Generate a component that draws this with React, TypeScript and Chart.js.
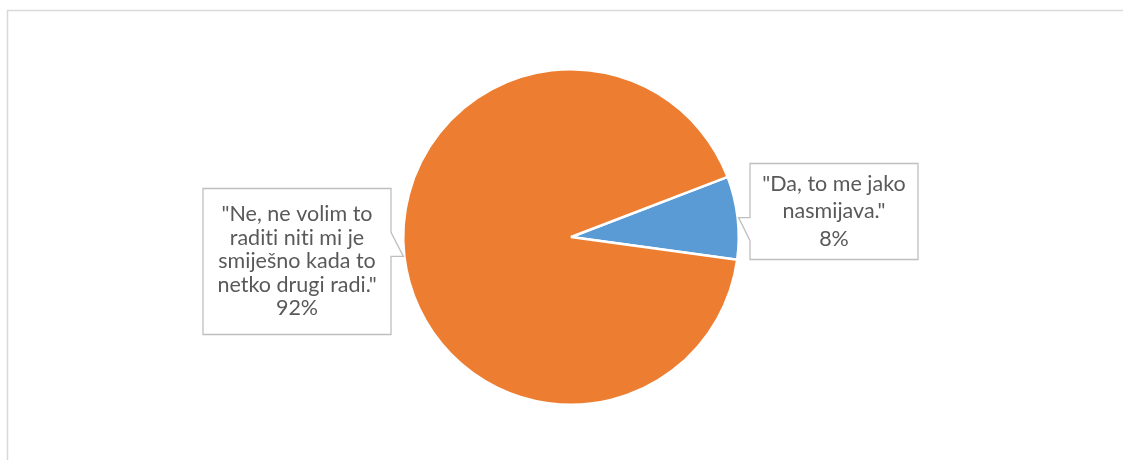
import React, { useEffect, useRef } from "react";
import { Chart, registerables } from "chart.js";

Chart.register(...registerables);

const categories = [
  '"Da, to me jako nasmijava."',
  '"Ne, ne volim to raditi niti mi je smiješno kada to netko drugi radi."',
];
const values = [8, 92];
const labelLines = [
  ['"Da, to me jako', 'nasmijava."', '8%'],
  ['"Ne, ne volim to', 'raditi niti mi je', 'smiješno kada to', 'netko drugi radi."', '92%'],
];
const colors = ["#5B9BD5", "#ED7D31"];

// callout box layout
const boxes: { x0: number; y0: number; x1: number; y1: number; side: "left" | "right"; lh: number; base: number }[] = [
  { x0: 750, y0: 163.5, x1: 918, y1: 259.5, side: "left", lh: 27.5, base: 23 },
  { x0: 203, y0: 188.5, x1: 391, y1: 334.5, side: "right", lh: 23.5, base: 24 },
];

const calloutPlugin = {
  id: "callouts",
  beforeDraw(chart: any) {
    const ctx = chart.ctx;
    ctx.save();
    ctx.fillStyle = "#ffffff";
    ctx.fillRect(0, 0, chart.width, chart.height);
    ctx.strokeStyle = "#d9d9d9";
    ctx.lineWidth = 1.5;
    ctx.beginPath();
    ctx.moveTo(7.5, chart.height);
    ctx.lineTo(7.5, 10.5);
    ctx.lineTo(chart.width, 10.5);
    ctx.stroke();
    ctx.restore();
  },
  afterDraw(chart: any) {
    const ctx = chart.ctx;
    const meta = chart.getDatasetMeta(0);
    meta.data.forEach((arc: any, i: number) => {
      const b = boxes[i];
      const mid = (arc.startAngle + arc.endAngle) / 2;
      const r = arc.outerRadius + 1;
      const tx = arc.x + Math.cos(mid) * r;
      const ty = arc.y + Math.sin(mid) * r;
      ctx.save();
      ctx.beginPath();
      if (b.side === "left") {
        ctx.moveTo(b.x0, b.y0);
        ctx.lineTo(b.x1, b.y0);
        ctx.lineTo(b.x1, b.y1);
        ctx.lineTo(b.x0, b.y1);
        ctx.lineTo(b.x0, ty + b.base);
        ctx.lineTo(tx, ty);
        ctx.lineTo(b.x0, ty);
        ctx.closePath();
      } else {
        ctx.moveTo(b.x0, b.y0);
        ctx.lineTo(b.x1, b.y0);
        ctx.lineTo(b.x1, ty - b.base);
        ctx.lineTo(tx, ty);
        ctx.lineTo(b.x1, ty);
        ctx.lineTo(b.x1, b.y1);
        ctx.lineTo(b.x0, b.y1);
        ctx.closePath();
      }
      ctx.fillStyle = "#ffffff";
      ctx.fill();
      ctx.strokeStyle = "#bfbfbf";
      ctx.lineWidth = 1.3;
      ctx.stroke();
      const lines = labelLines[i];
      ctx.fillStyle = "#595959";
      ctx.font = "21.5px Lato, 'Noto Sans', sans-serif";
      try {
        (ctx as any).letterSpacing = "0.01px";
      } catch (e) {}
      ctx.textAlign = "center";
      ctx.textBaseline = "middle";
      const cx = (b.x0 + b.x1) / 2;
      const cy = (b.y0 + b.y1) / 2;
      const n = lines.length;
      lines.forEach((t, k) => {
        ctx.fillText(t, cx, cy + (k - (n - 1) / 2) * b.lh);
      });
      ctx.restore();
    });
  },
};

export default function App() {
  const ref = useRef<HTMLCanvasElement>(null);
  useEffect(() => {
    if (!ref.current) return;
    const chart = new Chart(ref.current, {
      type: "pie",
      data: {
        labels: categories,
        datasets: [
          {
            data: values,
            backgroundColor: colors,
            borderColor: "#ffffff",
            borderWidth: 2.5,
          },
        ],
      },
      options: {
        animation: false,
        responsive: false,
        rotation: 69,
        layout: { padding: { top: 68, bottom: 54, left: 300, right: 281 } },
        plugins: {
          legend: { display: false },
          tooltip: { enabled: false },
        },
      },
      plugins: [calloutPlugin],
    });
    return () => chart.destroy();
  }, []);
  return (
    <div style={{ position: "absolute", left: 0, top: 0, width: 1123, height: 460 }}>
      <canvas ref={ref} width={1123} height={460} style={{ display: "block" }} />
    </div>
  );
}
